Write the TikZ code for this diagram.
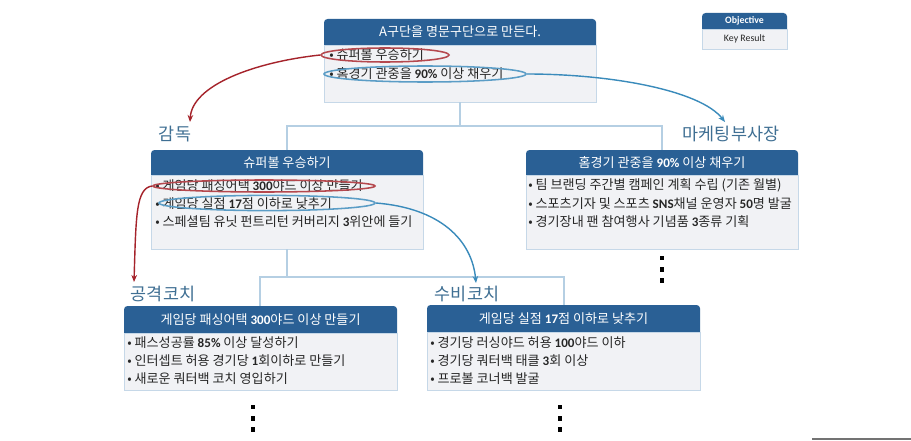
\documentclass[tikz,border=0pt]{standalone}
\usepackage{fontspec}
\setmainfont{Noto Sans CJK KR}
\newfontfamily\latinfont{Carlito}
\newcommand{\lat}[1]{{\latinfont\bfseries #1}}
\usetikzlibrary{positioning, shapes.geometric, arrows.meta, backgrounds}
\definecolor{headblue}{HTML}{2A6095}
\definecolor{bodygrey}{HTML}{F1F2F5}
\definecolor{edgeblue}{HTML}{C6D8E8}
\definecolor{linkblue}{HTML}{B5CFE3}
\definecolor{ringred}{HTML}{B5484E}
\definecolor{ringblue}{HTML}{5B9DC6}
\definecolor{arrowred}{HTML}{A5232B}
\definecolor{arrowblue}{HTML}{3A8BBB}
\definecolor{rolecol}{HTML}{3F6F93}
\tikzset{
  head/.style={rectangle, text=white, inner sep=0pt, outer sep=0pt,
    font=\fontsize{9.3}{10}\selectfont},
  body/.style={rectangle, fill=bodygrey, draw=edgeblue, line width=0.6pt, inner sep=0pt, outer sep=0pt},
  item/.style={anchor=west, inner sep=0pt, text=black!85, font=\fontsize{9.3}{10}\selectfont},
  role/.style={text=rolecol, inner sep=0pt, font=\fontsize{12.4}{14}\selectfont},
  link/.style={draw=linkblue, line width=1pt},
  ring/.style={ellipse, draw, line width=1.1pt, inner sep=0pt, fill=none},
  more/.style={rectangle, fill=black, minimum size=3.4pt, inner sep=0pt}
}
\begin{document}
\begin{tikzpicture}[x=0.025cm,y=-0.025cm]
\useasboundingbox (0,0) rectangle (911,440);
% goal boxes
\node[head, anchor=north west, minimum width=6.8cm, minimum height=0.65cm] (goal) at (324,19) {A구단을 명문구단으로 만든다.};
\node[body, below=0pt of goal, minimum width=6.8cm, minimum height=1.425cm] (goalb) {};
\node[head, anchor=north west, minimum width=6.8cm, minimum height=0.625cm] (coach) at (151,150) {슈퍼볼 우승하기};
\node[body, below=0pt of coach, minimum width=6.8cm, minimum height=1.85cm] (coachb) {};
\node[head, anchor=north west, minimum width=6.8cm, minimum height=0.625cm] (vice) at (526,150) {홈경기 관중을 \lat{90\%} 이상 채우기};
\node[body, below=0pt of vice, minimum width=6.8cm, minimum height=1.85cm] (viceb) {};
\node[head, anchor=north west, minimum width=6.825cm, minimum height=0.675cm] (off) at (124,306) {게임당 패싱어택 \lat{300}야드 이상 만들기};
\node[body, below=0pt of off, minimum width=6.825cm, minimum height=1.425cm] (offb) {};
\node[head, anchor=north west, minimum width=6.825cm, minimum height=0.675cm] (def) at (427,305) {게임당 실점 \lat{17}점 이하로 낮추기};
\node[body, below=0pt of def, minimum width=6.825cm, minimum height=1.45cm] (defb) {};
% legend
\node[head, anchor=north west, minimum width=2.125cm, minimum height=0.4cm, font=\latinfont\fontsize{7}{8}\selectfont\bfseries] (obj) at (702,13) {Objective};
\node[body, below=0pt of obj, minimum width=2.125cm, minimum height=0.5cm, font=\latinfont\fontsize{7}{8}\selectfont, text=black!85] (kr) {Key Result};
% header bands
\begin{pgfonlayer}{background}
\fill[white] (0,0) rectangle (911,440);
\foreach \nm in {goal,coach,vice,off,def,obj}
  \fill[headblue] (\nm.south west) [rounded corners=2.5pt] -- (\nm.north west) -- (\nm.north east) [sharp corners] -- (\nm.south east) -- cycle;
\end{pgfonlayer}
% key results
\node[item] (g1) at (329,55) {• 슈퍼볼 우승하기};
\node[item] (g2) at (329,74) {• 홈경기 관중을 \lat{90\%} 이상 채우기};
\node[item] (c1) at (155,186) {• 게임당 패싱어택 \lat{300}야드 이상 만들기};
\node[item] (c2) at (155,204) {• 게임당 실점 \lat{17}점 이하로 낮추기};
\node[item] (c3) at (155,222) {• 스페셜팀 유닛 펀트리턴 커버리지 \lat{3}위안에 들기};
\node[item] (v1) at (528,185) {• 팀 브랜딩 주간별 캠페인 계획 수립 (기존 월별)};
\node[item] (v2) at (528,204) {• 스포츠기자 및 스포츠 \lat{SNS}채널 운영자 \lat{50}명 발굴};
\node[item] (v3) at (528,222) {• 경기장내 팬 참여행사 기념품 \lat{3}종류 기획};
\node[item] (o1) at (127,343) {• 패스성공률 \lat{85\%} 이상 달성하기};
\node[item] (o2) at (127,361) {• 인터셉트 허용 경기당 \lat{1}회이하로 만들기};
\node[item] (o3) at (127,379) {• 새로운 쿼터백 코치 영입하기};
\node[item] (d1) at (430,343) {• 경기당 러싱야드 허용 \lat{100}야드 이하};
\node[item] (d2) at (430,361) {• 경기당 쿼터백 태클 \lat{3}회 이상};
\node[item] (d3) at (430,379) {• 프로볼 코너백 발굴};
% roles
\node[role] (r1) at (175,134) {감독};
\node[role] (r2) at (731,134) {마케팅부사장};
\node[role] (r3) at (163,294) {공격코치};
\node[role] (r4) at (467,294) {수비코치};
% tree
\coordinate (j1) at (460,126);
\coordinate (j2) at (287,277);
\draw[link] (goalb.south -| j1) -- (j1);
\draw[link] (coach.north -| j2) |- (j1) -| (vice.north -| 662,0);
\draw[link] (coachb.south -| j2) -- (j2);
\draw[link] (off.north -| 260,0) |- (j2) -| (def.north -| 564,0);
% rings
\node[ring, draw=ringred, minimum width=3.2cm, minimum height=0.35cm] (ra) at (385,55) {};
\node[ring, draw=ringblue, minimum width=5.05cm, minimum height=0.4cm] (ba) at (425,74) {};
\node[ring, draw=ringred, minimum width=5.55cm, minimum height=0.3cm] (rb) at (264,186) {};
\node[ring, draw=ringblue, minimum width=5.4cm, minimum height=0.38cm] (bb) at (267,203) {};
% arrows
\coordinate (ta) at (190,122);
\coordinate (tb) at (725,122);
\coordinate (tc) at (134,282);
\coordinate (td) at (476,283);
\draw[arrowred, line width=1pt, -{Stealth[length=5pt,width=4pt]}] (ra.west) .. controls (255,62) and (192,85) .. (ta);
\draw[arrowblue, line width=1pt, -{Stealth[length=5pt,width=4pt]}] (ba.east) .. controls (610,74) and (700,90) .. (tb);
\draw[arrowred, line width=1pt, -{Stealth[length=5pt,width=4pt]}] (rb.west) .. controls (136,188) and (136,215) .. (tc);
\draw[arrowblue, line width=1pt, -{Stealth[length=5pt,width=4pt]}] (bb.east) .. controls (440,208) and (472,240) .. (td);
% more to come
\foreach \nm/\px/\py in {a/662/258, b/253/407, c/560/407} {
  \node[more] (\nm1) at (\px,\py) {};
  \node[more, below=4.2pt of \nm1] (\nm2) {};
  \node[more, below=4.2pt of \nm2] (\nm3) {};
}
% cut-off mark at the lower edge
\fill[black!55] (812,438) rectangle (911,440);
\end{tikzpicture}
\end{document}
